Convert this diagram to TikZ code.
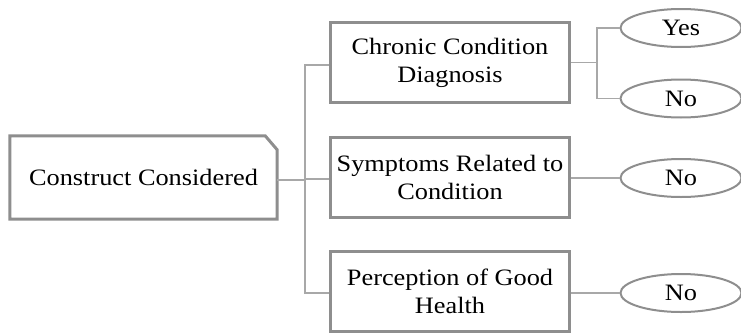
\documentclass[tikz,border=0pt]{standalone}
\usepackage{fontspec}
\setmainfont[FakeStretch=1.12]{Liberation Serif}
\usetikzlibrary{shapes.geometric}
\definecolor{boxgray}{HTML}{8E8E8E}
\definecolor{linegray}{HTML}{A8A8A8}
\begin{document}
\begin{tikzpicture}[x=1pt,y=1pt,
  txt/.style={font=\fontsize{23.5}{28}\selectfont, align=center, inner sep=0pt},
  rbox/.style={txt, draw=boxgray, line width=3pt, minimum width=239pt, minimum height=80pt},
  oval/.style={txt, ellipse, draw=boxgray, line width=2pt, minimum width=121pt, minimum height=38pt},
  conn/.style={draw=linegray, line width=1.6pt}]
\useasboundingbox (0,0) rectangle (741,-332);
% construct box (drawn with cut corner)
\node[txt, minimum width=267pt, minimum height=83pt] (con) at (143.5,-177.5) {Construct Considered};
\draw[boxgray, line width=3pt, line join=miter]
  (con.north west) -- ([xshift=-12pt]con.north east) -- ([yshift=-14pt]con.north east)
  -- (con.south east) -- (con.south west) -- cycle;
\node[rbox] (chr) at (450,-62.5) {Chronic Condition\\Diagnosis};
\node[rbox] (sym) at (450,-177) {Symptoms Related to\\Condition};
\node[rbox] (per) at (450,-291) {Perception of Good\\Health};
\node[oval] (yes) at (681,-28) {Yes};
\node[oval] (no1) at (681,-98.5) {No};
\node[oval] (no2) at (681,-178) {No};
\node[oval] (no3) at (681,-293) {No};
\coordinate (trunk) at (305,0);
\coordinate (split) at (597,0);
% connectors
\draw[conn] (con.east |- 0,-180) -- (trunk |- 0,-180);
\draw[conn] (chr.west |- 0,-65) -| (trunk |- 0,-180) |- (per.west |- 0,-293);
\draw[conn] (trunk |- 0,-179) -- (sym.west |- 0,-179);
\draw[conn] (chr.east) -- (split |- chr.east);
\draw[conn] (yes.west) -- (split |- yes.west) -- (split |- no1.west) -- (no1.west);
\draw[conn] (sym.east |- no2.west) -- (no2.west);
\draw[conn] (per.east |- no3.west) -- (no3.west);
\end{tikzpicture}
\end{document}
